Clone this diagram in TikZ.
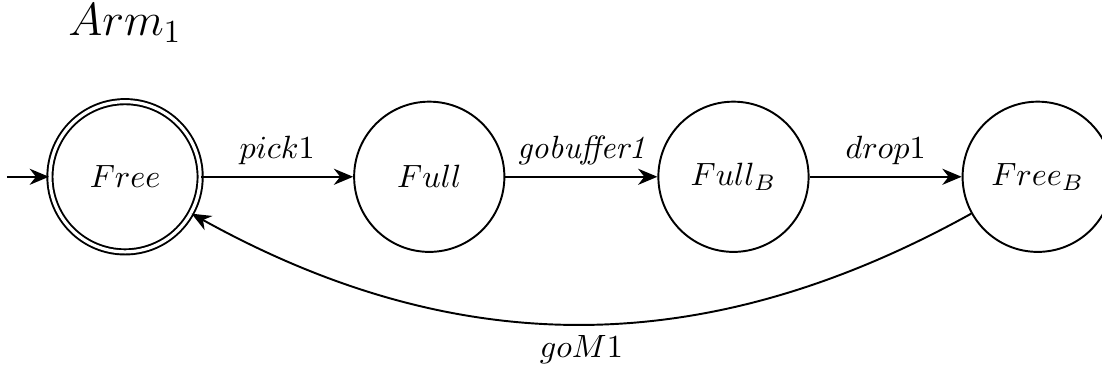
\documentclass[tikz,border=0pt]{standalone}
\usepackage{amsmath, amssymb}
\usepackage{tikz}
\usetikzlibrary{
  arrows.meta,
  positioning
}

\begin{document}
\begin{tikzpicture}[
  statenode/.style={circle, draw, semithick, minimum size=1.64cm, inner sep=0pt},
  marked/.style={statenode, double, double distance=1pt},
  arrow/.style={-{Stealth[length=6pt, width=5pt]}, semithick},
  lbl/.style={font=\normalsize},
]
\useasboundingbox (-1.365,-2.107) rectangle (10.665,1.93);

% Title
\node (title) at (0,1.68) {\Large $Arm_1$};

% States
\node[marked] (free) at (0,0) {$Free$};
\node[statenode, right=1.66cm of free] (full) {$Full$};
\node[statenode, right=1.66cm of full] (fullb) {$Full_B$};
\node[statenode, right=1.66cm of fullb] (freeb) {$Free_B$};

% Initial arrow
\coordinate[left=0.46cm of free.west] (init);
\draw[arrow] (init) -- (free);

% Transitions
\draw[arrow] (free) -- (full) node[midway, above, lbl] {$pick1$};
\draw[arrow] (full) -- (fullb) node[midway, above, lbl] {\textit{gobuffer1}};
\draw[arrow] (fullb) -- (freeb) node[midway, above, lbl] {$drop1$};
\draw[arrow] (freeb) to[bend left=29] node[midway, below, lbl] {$goM1$} (free);
\end{tikzpicture}
\end{document}
